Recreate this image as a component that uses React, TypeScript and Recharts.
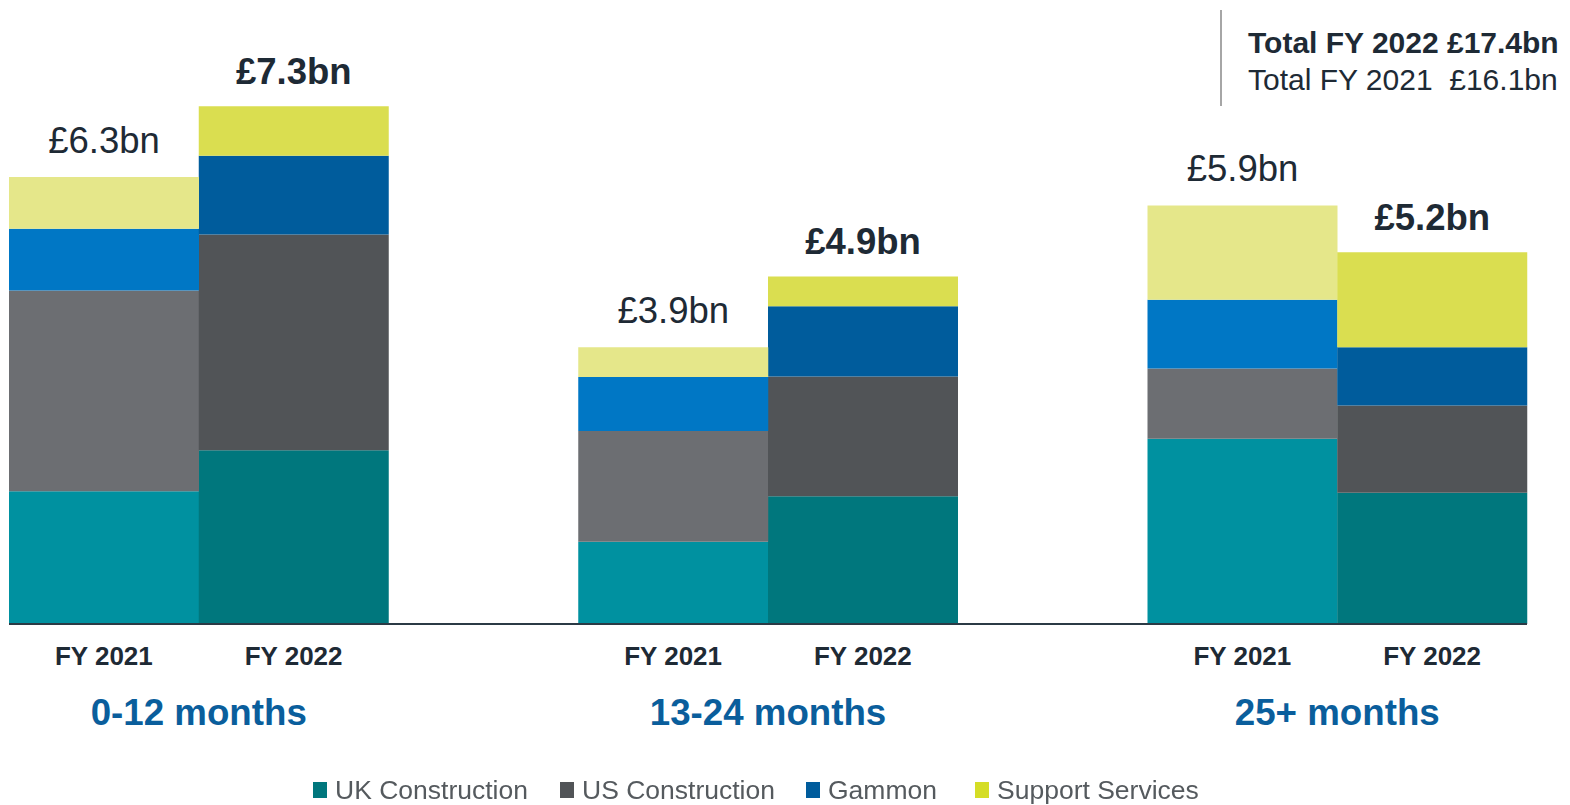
import React from "react";
import { BarChart, Bar, XAxis, YAxis, Cell, LabelList } from "recharts";

const categories = ["FY 2021", "FY 2022", "", "FY 2021", "FY 2022", "", "FY 2021", "FY 2022"];
const ukValues = [1.87, 2.45, null, 1.16, 1.8, null, 2.61, 1.85];
const usValues = [2.83, 3.04, null, 1.56, 1.69, null, 0.99, 1.23];
const gammonValues = [0.87, 1.11, null, 0.76, 0.99, null, 0.97, 0.82];
const supportValues = [0.73, 0.7, null, 0.42, 0.42, null, 1.33, 1.34];
const totalLabels = ["£6.3bn", "£7.3bn", "", "£3.9bn", "£4.9bn", "", "£5.9bn", "£5.2bn"];
const groupLabels = ["0-12 months", "13-24 months", "25+ months"];
const seriesNames = ["UK Construction", "US Construction", "Gammon", "Support Services"];
const totalsText = ["Total FY 2022 £17.4bn", "Total FY 2021  £16.1bn"];

const colors21 = ["#0091A0", "#6C6E72", "#0077C5", "#E5E78A"];
const colors22 = ["#00777D", "#515457", "#005C9C", "#DADE50"];
const legendColors = ["#00777D", "#515457", "#005C9C", "#D5DD26"];

const data = categories.map((name, i) => ({
  name,
  uk: ukValues[i],
  us: usValues[i],
  gammon: gammonValues[i],
  support: supportValues[i],
  total: totalLabels[i],
}));

const W = 1570;
const H = 805;
const M = { top: 21, left: 9, right: 43, bottom: 0 };
const SLOT = (W - M.left - M.right) / categories.length;
const FONT = "'Liberation Sans', Arial, sans-serif";
const DARK = "#1E2A35";

const renderTick = (props: any) => {
  const { x, y, payload, index } = props;
  const i = payload && payload.index != null ? payload.index : index;
  const isGroupStart = i % 3 === 0;
  return (
    <g>
      {payload.value ? (
        <text x={x} y={y + 41} textAnchor="middle" fontFamily={FONT} fontSize={26} fontWeight="bold" fill={DARK}>
          {payload.value}
        </text>
      ) : null}
      {isGroupStart ? (
        <text x={x + SLOT / 2} y={y + 101} textAnchor="middle" fontFamily={FONT} fontSize={36.7} fontWeight="bold" fill="#0A5E9C">
          {groupLabels[i / 3]}
        </text>
      ) : null}
    </g>
  );
};

const renderTotal = (props: any) => {
  const { x, y, width, value } = props;
  if (!value) return null;
  const idx = totalLabels.indexOf(value);
  const bold = idx % 3 === 1;
  return (
    <text x={x + width / 2} y={y - (bold ? 22 : 24)} textAnchor="middle" fontFamily={FONT} fontSize={36.5} fontWeight={bold ? "bold" : "normal"} fill={DARK}>
      {value}
    </text>
  );
};

const keys = ["uk", "us", "gammon", "support"];
const legendLeft = [313, 560, 806, 975];

export default function App() {
  return (
    <div style={{ position: "fixed", top: 0, left: 0, width: W, height: H, background: "#fff", fontFamily: FONT }}>
      <BarChart width={W} height={H} data={data} margin={M} barCategoryGap={0} barGap={0}>
        <YAxis hide domain={[0, 8.5]} allowDataOverflow />
        <XAxis
          dataKey="name"
          interval={0}
          height={181}
          tickLine={false}
          tickSize={0}
          tickMargin={0}
          axisLine={{ stroke: "#2B3A45", strokeWidth: 2 }}
          tick={renderTick}
        />
        {keys.map((k, si) => (
          <Bar key={k} dataKey={k} stackId="a" isAnimationActive={false} name={seriesNames[si]}>
            {data.map((_, i) => (
              <Cell key={i} fill={i % 3 === 0 ? colors21[si] : colors22[si]} />
            ))}
            {k === "support" ? <LabelList dataKey="total" content={renderTotal} /> : null}
          </Bar>
        ))}
      </BarChart>
      <div style={{ position: "absolute", left: 1220, top: 10, width: 2, height: 96, background: "#A6A6A6" }} />
      <div style={{ position: "absolute", left: 1248, top: 25, fontSize: 30, fontWeight: "bold", color: DARK, whiteSpace: "nowrap", lineHeight: "36px" }}>
        {totalsText[0]}
      </div>
      <div style={{ position: "absolute", left: 1248, top: 62, fontSize: 30, color: DARK, whiteSpace: "pre", lineHeight: "36px" }}>
        {totalsText[1]}
      </div>
      {seriesNames.map((n, i) => (
        <div key={n} style={{ position: "absolute", left: legendLeft[i], top: 774, display: "flex", alignItems: "center", whiteSpace: "nowrap" }}>
          <div style={{ width: 14, height: 16, background: legendColors[i], marginRight: 8 }} />
          <span style={{ fontSize: 26.5, color: "#555A5E", lineHeight: "32px" }}>{n}</span>
        </div>
      ))}
    </div>
  );
}
